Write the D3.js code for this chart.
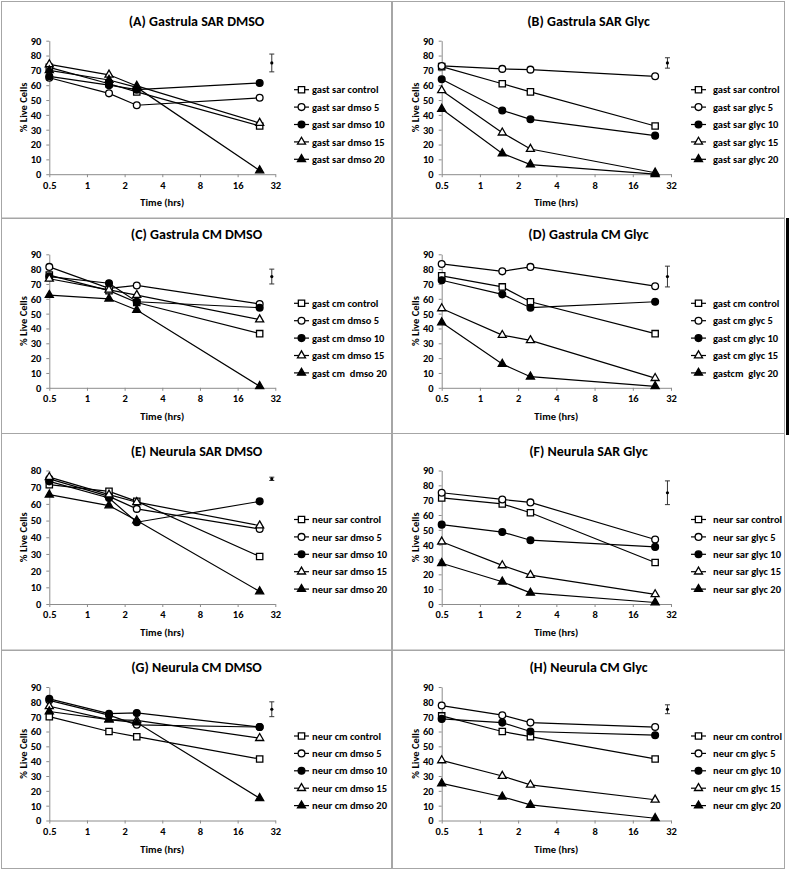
<!DOCTYPE html>
<html><head><meta charset="utf-8">
<script src="https://cdn.jsdelivr.net/npm/d3@7"></script>
<style>
html,body{margin:0;padding:0;background:#fff;}
svg text{font-family:Carlito, Lato, "Open Sans", sans-serif;font-weight:bold;fill:#000;white-space:pre;}
</style></head>
<body>
<svg id="chart" width="793" height="870"></svg>
<script>
// ---- data ----
const times = [0.5, 1.5, 2.5, 24];
const xTickValues = [0.5, 1, 2, 4, 8, 16, 32];
const yTicks90 = [0, 10, 20, 30, 40, 50, 60, 70, 80, 90];
const yTicks80 = [0, 10, 20, 30, 40, 50, 60, 70, 80];
const panelTitles = ["(A) Gastrula SAR DMSO", "(B) Gastrula SAR Glyc", "(C) Gastrula CM DMSO", "(D) Gastrula CM Glyc",
                     "(E) Neurula SAR DMSO", "(F) Neurula SAR Glyc", "(G) Neurula CM DMSO", "(H) Neurula CM Glyc"];
const yMaxes = [90, 90, 90, 90, 80, 90, 90, 90];
const errX = 30;
const errMid = [75, 75, 75, 75, 75, 75, 75, 75];
const errHalf = [6, 3.5, 5, 7, 1, 8, 5, 3];

const legendA = ["gast sar control", "gast sar dmso 5", "gast sar dmso 10", "gast sar dmso 15", "gast sar dmso 20"];
const legendB = ["gast sar control", "gast sar glyc 5", "gast sar glyc 10", "gast sar glyc 15", "gast sar glyc 20"];
const legendC = ["gast cm control", "gast cm dmso 5", "gast cm dmso 10", "gast cm dmso 15", "gast cm  dmso 20"];
const legendD = ["gast cm control", "gast cm glyc 5", "gast cm glyc 10", "gast cm glyc 15", "gastcm  glyc 20"];
const legendE = ["neur sar control", "neur sar dmso 5", "neur sar dmso 10", "neur sar dmso 15", "neur sar dmso 20"];
const legendF = ["neur sar control", "neur sar glyc 5", "neur sar glyc 10", "neur sar glyc 15", "neur sar glyc 20"];
const legendG = ["neur cm control", "neur cm dmso 5", "neur cm dmso 10", "neur cm dmso 15", "neur cm dmso 20"];
const legendH = ["neur cm control", "neur cm glyc 5", "neur cm glyc 10", "neur cm glyc 15", "neur cm glyc 20"];

const valuesA = [[72, 61, 55.5, 32.5], [65, 54.5, 46.5, 51.5], [66, 60, 57, 61.5], [74, 67, 59.5, 34.5], [70, 63.5, 58.5, 2.5]];
const valuesB = [[72.5, 61, 55.5, 32.5], [73, 71, 70.5, 66], [64, 43, 37, 26], [56.5, 28, 17, 1], [44, 14, 6.5, 0]];
const valuesC = [[76, 65.5, 57.5, 36.5], [81.5, 67, 69, 56.5], [75, 70.5, 58, 54], [73.5, 66, 62.5, 46], [62.5, 60, 52.5, 1]];
const valuesD = [[75.5, 68, 58, 36.5], [83.5, 78.5, 81.5, 68.5], [72.5, 63, 54, 58], [53.5, 35.5, 32, 6.5], [44, 16, 7.5, 1]];
const valuesE = [[71.5, 67.5, 61.5, 28.5], [75, 64.5, 57, 45], [73.5, 63.5, 49, 61.5], [76, 65.5, 61, 47], [65.5, 59, 50, 7.5]];
const valuesF = [[71.5, 67.5, 61.5, 28], [75, 70.5, 68.5, 43.5], [53.5, 48.5, 43, 38.5], [42, 26, 19.5, 6.5], [27.5, 15, 7.5, 1]];
const valuesG = [[70, 60, 56.5, 41.5], [81, 71, 64.5, 63], [82, 72, 72.5, 63], [77, 68, 67.5, 55.5], [73.5, 68, 66, 15]];
const valuesH = [[70.5, 60, 56.5, 41.5], [77.5, 71, 66, 63], [68.5, 66, 60, 57.5], [40.5, 30, 24, 14], [25, 16, 10.5, 1.5]];

const markerShapes = ["square", "circle", "circle", "triangle", "triangle"];
const markerFilled = [false, false, true, false, true];

// ---- layout ----
const legends = [legendA, legendB, legendC, legendD, legendE, legendF, legendG, legendH];
const valueSets = [valuesA, valuesB, valuesC, valuesD, valuesE, valuesF, valuesG, valuesH];
const colX = [1.5, 392.5], colW = [390, 392];
const rowY = [1.5, 218.5, 433.5, 650.5], rowH = [216.5, 215, 216.5, 218];
const plotX = [49.3, 441.7], plotW = [226, 229.3];
const plotTop = [40.7, 254.3, 470.5, 687], plotH = 133.5;
const legLine = [[294, 309], [691, 706]], legText = [312, 713];

const svg = d3.select("#chart");
svg.append("rect").attr("width", 793).attr("height", 870).attr("fill", "#fff");

const symbolFor = {square: d3.symbolSquare, circle: d3.symbolCircle, triangle: d3.symbolTriangle};
const sizeFor = {square: 40, circle: 36, triangle: 28};
function marker(g, k, x, y) {
  g.append("path")
    .attr("d", d3.symbol().type(symbolFor[markerShapes[k]]).size(sizeFor[markerShapes[k]])())
    .attr("transform", `translate(${x},${y})`)
    .attr("fill", markerFilled[k] ? "#000" : "#fff")
    .attr("stroke", "#000").attr("stroke-width", 1.3);
}

for (let p = 0; p < 8; p++) {
  const c = p % 2, r = Math.floor(p / 2);
  const g = svg.append("g");
  g.append("rect").attr("x", colX[c]).attr("y", rowY[r]).attr("width", colW[c]).attr("height", rowH[r])
    .attr("fill", "none").attr("stroke", "#a6a6a6").attr("stroke-width", 1);

  const x = d3.scaleLog().base(2).domain([0.5, 32]).range([plotX[c], plotX[c] + plotW[c]]);
  const y = d3.scaleLinear().domain([0, yMaxes[p]]).range([plotTop[r] + plotH, plotTop[r]]);

  // title
  g.append("text").attr("x", colX[c] + colW[c] / 2).attr("y", plotTop[r] - 15)
    .attr("text-anchor", "middle").attr("font-size", 14).text(panelTitles[p]);

  // axes
  const yAxis = g.append("g").attr("transform", `translate(${plotX[c]},0)`)
    .call(d3.axisLeft(y).tickValues(yMaxes[p] === 80 ? yTicks80 : yTicks90).tickSize(3).tickPadding(5).tickSizeOuter(0));
  const xAxis = g.append("g").attr("transform", `translate(0,${plotTop[r] + plotH})`)
    .call(d3.axisBottom(x).tickValues(xTickValues).tickFormat(d => String(d)).tickSize(3).tickPadding(4).tickSizeOuter(0));
  [yAxis, xAxis].forEach(a => {
    a.selectAll("path,line").attr("stroke", "#8c8c8c");
    a.selectAll("text").attr("font-size", 10.5).style("font-family", null);
    a.attr("font-family", null);
  });

  g.append("text").attr("x", plotX[c] + plotW[c] / 2).attr("y", plotTop[r] + plotH + 32)
    .attr("text-anchor", "middle").attr("font-size", 10.5).text("Time (hrs)");
  g.append("text").attr("transform", `translate(${plotX[c] - 26},${plotTop[r] + plotH / 2}) rotate(-90)`)
    .attr("text-anchor", "middle").attr("dy", "0.35em").attr("font-size", 10.5).text("% Live Cells");

  // series
  const line = d3.line().x((d, i) => x(times[i])).y(d => y(d));
  valueSets[p].forEach((vals, k) => {
    g.append("path").attr("d", line(vals)).attr("fill", "none").attr("stroke", "#000").attr("stroke-width", 1.2);
  });
  valueSets[p].forEach((vals, k) => {
    vals.forEach((v, i) => marker(g, k, x(times[i]), y(v)));
  });

  // error bar
  const ex = x(errX);
  const eg = g.append("g").attr("stroke", "#333").attr("stroke-width", 1);
  eg.append("line").attr("x1", ex).attr("x2", ex).attr("y1", y(errMid[p] - errHalf[p])).attr("y2", y(errMid[p] + errHalf[p]));
  eg.append("line").attr("x1", ex - 2.5).attr("x2", ex + 2.5).attr("y1", y(errMid[p] - errHalf[p])).attr("y2", y(errMid[p] - errHalf[p]));
  eg.append("line").attr("x1", ex - 2.5).attr("x2", ex + 2.5).attr("y1", y(errMid[p] + errHalf[p])).attr("y2", y(errMid[p] + errHalf[p]));
  g.append("circle").attr("cx", ex).attr("cy", y(errMid[p])).attr("r", 1.6).attr("fill", "#000");

  // legend
  legends[p].forEach((lab, k) => {
    const ly = plotTop[r] + 49 + k * 17.4;
    g.append("line").attr("x1", legLine[c][0]).attr("x2", legLine[c][1]).attr("y1", ly).attr("y2", ly)
      .attr("stroke", "#000").attr("stroke-width", 1.2);
    marker(g, k, (legLine[c][0] + legLine[c][1]) / 2, ly);
    g.append("text").attr("x", legText[c]).attr("y", ly).attr("dy", "0.35em").attr("font-size", 10.5).text(lab);
  });
}

// thick black bar at right edge of panel D
svg.append("rect").attr("x", 786).attr("y", 218).attr("width", 3).attr("height", 217).attr("fill", "#000");
</script>
</body></html>
